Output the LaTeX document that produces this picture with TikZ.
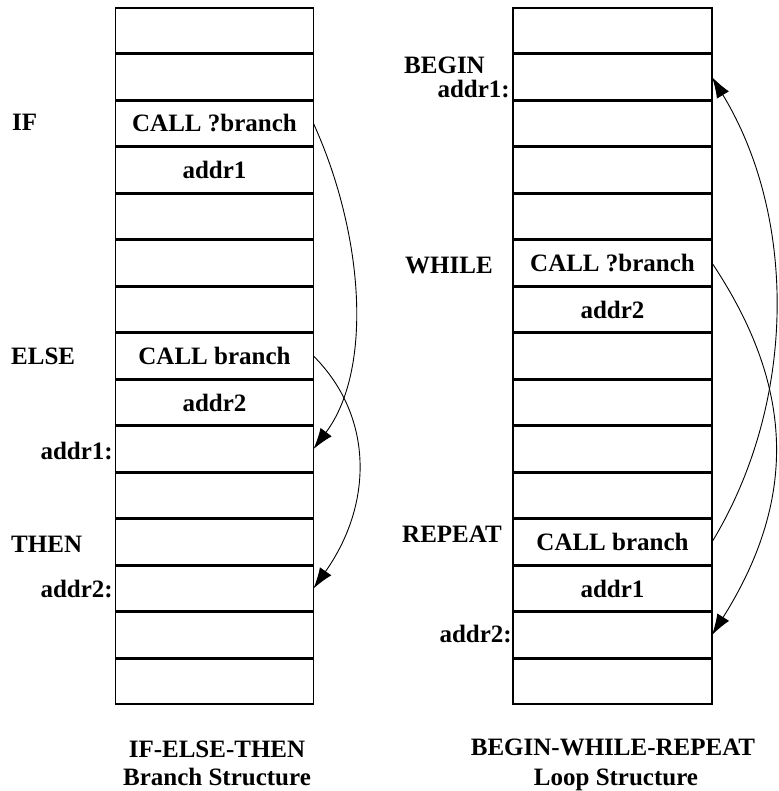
\documentclass[tikz,border=0pt]{standalone}
\usepackage{fontspec}
\setmainfont{Liberation Serif}
\usetikzlibrary{arrows.meta}
\tikzset{
  txt/.style={font=\fontsize{25}{29}\selectfont\bfseries},
  cell/.style={txt, draw, line width=1.3pt, minimum width=198pt, minimum height=45pt,
    inner sep=0pt, outer sep=0pt, anchor=north west},
  lbl/.style={txt, inner sep=0pt},
  link/.style={line width=0.9pt, -{Latex[length=21pt,width=14pt]}},
}
\begin{document}
\begin{tikzpicture}[x=1pt,y=-1pt]
\fill[white] (0,0) rectangle (778,791);
\useasboundingbox (0,0) rectangle (778,791);

% IF-ELSE-THEN memory cells
\foreach \i/\t in {0/{},1/{},2/{CALL ?branch},3/{addr1},4/{},5/{},6/{},7/{CALL branch},
                   8/{addr2},9/{},10/{},11/{},12/{},13/{},14/{}}
  \node[cell] (L\i) at (115.5, 8+46.5*\i) {\t};

% BEGIN-WHILE-REPEAT memory cells
\foreach \i/\t in {0/{},1/{},2/{},3/{},4/{},5/{CALL ?branch},6/{addr2},7/{},8/{},9/{},
                   10/{},11/{CALL branch},12/{addr1},13/{},14/{}}
  \node[cell, minimum width=199pt] (R\i) at (513, 8+46.5*\i) {\t};

% word labels, left side
\node[lbl, anchor=base west] (kif)   at (12,131) {IF};
\node[lbl, anchor=base west] (kelse) at (11,364) {ELSE};
\node[lbl, anchor=base east] (ka1)   at (113,459) {addr1:};
\node[lbl, anchor=base west] (kthen) at (11,552) {THEN};
\node[lbl, anchor=base east] (ka2)   at (113,597) {addr2:};

% word labels, right side
\node[lbl, anchor=base west] (kbegin)  at (404,74) {BEGIN};
\node[lbl, anchor=base east] (kb1)     at (510,98) {addr1:};
\node[lbl, anchor=base west] (kwhile)  at (405,273) {WHILE};
\node[lbl, anchor=base west] (krepeat) at (402,542) {REPEAT};
\node[lbl, anchor=base east] (kb2)     at (512,642) {addr2:};

% captions
\node[lbl, anchor=base] (cap1a) at (217,757) {IF-ELSE-THEN};
\node[lbl, anchor=base] (cap1b) at (217,785) {Branch Structure};
\node[lbl, anchor=base] (cap2a) at (613,755) {BEGIN-WHILE-REPEAT};
\node[lbl, anchor=base] (cap2b) at (616,785) {Loop Structure};

% branch targets
\draw[link] (L2.east) .. controls +(50,110) and +(60,-80) .. (L9.east);
\draw[link] (L7.east) .. controls +(60,60) and +(60,-85) .. (L12.east);
\draw[link] (R5.east) .. controls +(80,120) and +(88,-140) .. (R13.east);
\draw[link] (R11.east) .. controls +(85,-140) and +(85,140) .. (R1.east);
\end{tikzpicture}
\end{document}
